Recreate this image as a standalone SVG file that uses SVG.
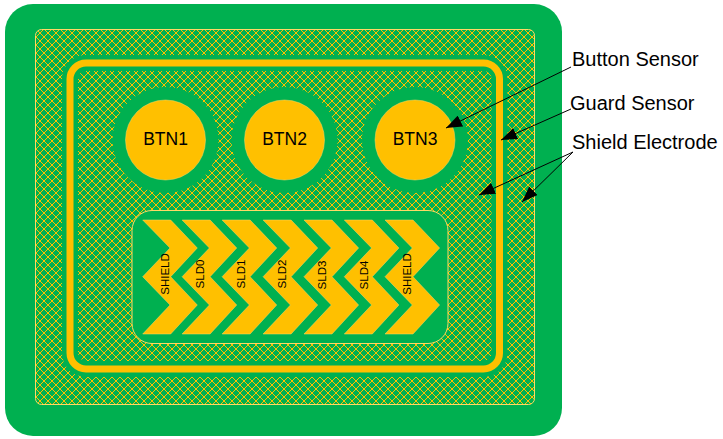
<svg xmlns="http://www.w3.org/2000/svg" width="723" height="439" viewBox="0 0 723 439">
<style>
.g{fill:#00B050}
.y{fill:#FFC000}
text{font-family:"Liberation Sans",Arial,sans-serif;fill:#000}
.lbl{font-size:20px}
.btn{font-size:17.500px;text-anchor:middle}
.sld{font-size:11.500px;text-anchor:middle}
.c{fill:none;stroke:#000;stroke-width:1}
.ch{fill:#FFC000;stroke:#FFD966;stroke-width:.5}
</style>
<defs>
<pattern id="h" width="8" height="8" patternUnits="userSpaceOnUse" x="36" y="29">
<rect width="8" height="8" fill="#00B050"/>
<path shape-rendering="crispEdges" fill="#FFC000" d="M0 0h1v1h-1zM1 1h1v1h-1zM2 2h1v1h-1zM3 3h1v1h-1zM4 4h1v1h-1zM5 5h1v1h-1zM6 6h1v1h-1zM7 7h1v1h-1zM7 0h1v1h-1zM6 1h1v1h-1zM5 2h1v1h-1zM4 3h1v1h-1zM3 4h1v1h-1zM2 5h1v1h-1zM1 6h1v1h-1zM0 7h1v1h-1z"/>
</pattern>
<marker id="a" markerUnits="userSpaceOnUse" markerWidth="17" markerHeight="12" refX="16" refY="6" orient="auto">
<path d="M0 0L16 6L0 12z" fill="#000"/>
</marker>
<path id="chev" d="M142.7 220H170.7L197.3 248L170.7 276.7L197.3 305L170.7 334H142.7L170 305L142.700 276.7L170 248z"/>
</defs>
<g id="board"><rect x="5" y="4" width="557" height="432" rx="28" class="g"/></g>
<g id="shield-electrode"><rect x="35.500" y="29.500" width="499" height="375" rx="6" fill="url(#h)" stroke="#FFD966" stroke-width="1"/></g>
<g id="guard-sensor">
<rect x="70" y="63" width="429.500" height="306" rx="16" fill="none" stroke="#00B050" stroke-width="16"/>
<rect x="70" y="63" width="429.500" height="306" rx="16" fill="none" stroke="#FFC000" stroke-width="7"/>
</g>
<g id="btn1"><circle cx="165.500" cy="140" r="53" class="g"/><circle cx="165.500" cy="140" r="40" class="y" stroke="#FFD966" stroke-width=".5"/><text x="165.500" y="145" class="btn">BTN1</text></g>
<g id="btn2"><circle cx="284.500" cy="140" r="53" class="g"/><circle cx="284.500" cy="140" r="40" class="y" stroke="#FFD966" stroke-width=".5"/><text x="284.500" y="145" class="btn">BTN2</text></g>
<g id="btn3"><circle cx="415" cy="140" r="53" class="g"/><circle cx="415" cy="140" r="40" class="y" stroke="#FFD966" stroke-width=".5"/><text x="415" y="145" class="btn">BTN3</text></g>
<g id="slider-panel"><rect x="132" y="210.500" width="316" height="133" rx="20" class="g" stroke="#FFD966" stroke-width="1"/></g>
<g id="slider">
<use href="#chev" class="ch"/>
<use href="#chev" class="ch" x="39.400"/>
<use href="#chev" class="ch" x="79.400"/>
<use href="#chev" class="ch" x="120.400"/>
<use href="#chev" class="ch" x="161.300"/>
<use href="#chev" class="ch" x="201.600"/>
<use href="#chev" class="ch" x="242.300"/>
<text class="sld" transform="translate(169,274) rotate(-90)">SHIELD</text>
<text class="sld" transform="translate(204,274) rotate(-90)">SLD0</text>
<text class="sld" transform="translate(245,274) rotate(-90)">SLD1</text>
<text class="sld" transform="translate(286,274) rotate(-90)">SLD2</text>
<text class="sld" transform="translate(326,275) rotate(-90)">SLD3</text>
<text class="sld" transform="translate(368,275) rotate(-90)">SLD4</text>
<text class="sld" transform="translate(411,274) rotate(-90)">SHIELD</text>
</g>
<g id="connectors">
<line x1="571" y1="67" x2="446" y2="128" class="c" marker-end="url(#a)"/>
<line x1="571" y1="109" x2="501" y2="140" class="c" marker-end="url(#a)"/>
<line x1="573" y1="152" x2="479" y2="195" class="c" marker-end="url(#a)"/>
<line x1="573" y1="152" x2="522" y2="202" class="c" marker-end="url(#a)"/>
</g>
<g id="labels">
<text x="572" y="66" class="lbl">Button Sensor</text>
<text x="570" y="110" class="lbl">Guard Sensor</text>
<text x="572" y="149" class="lbl">Shield Electrode</text>
</g>
</svg>
